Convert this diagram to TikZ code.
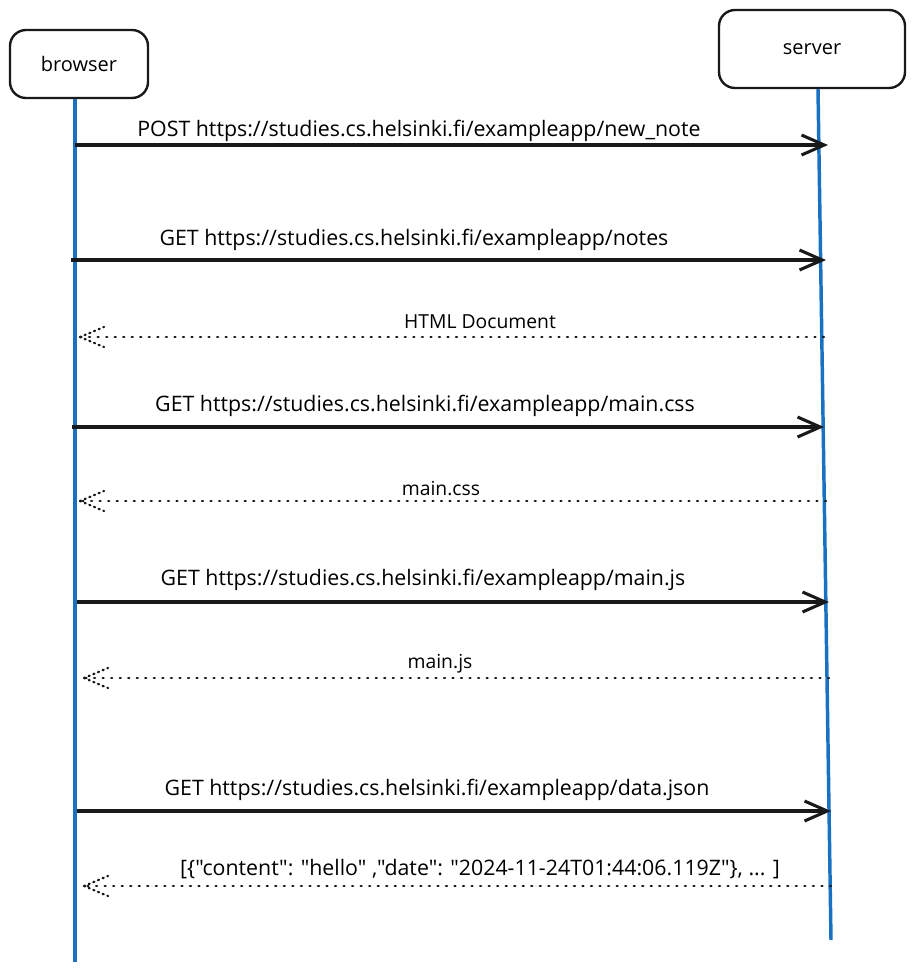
\documentclass[tikz,border=0pt]{standalone}
\usepackage{fontspec}
\newfontfamily\diagfont{Open Sans}
\usetikzlibrary{arrows.meta}
\definecolor{lifeblue}{HTML}{1971C2}

\begin{document}
\begin{tikzpicture}[%
        x = 0.75pt,
        y = -0.75pt,
        line width = 1.5pt,
        actor/.style = {draw = black!90, line width = 1.8pt, rounded corners = 12pt, font = \diagfont\fontsize{15}{17}\selectfont},
        life/.style = {draw = lifeblue, line width = 2.6pt},
        call/.style = {draw = black!90, line width = 2.3pt, -{Straight Barb[length = 17pt, width = 15pt]}},
        reply/.style = {draw = black!90, line width = 1.7pt, dash pattern = on 0.8pt off 5.6pt, line cap = round},
        msg/.style = {font = \diagfont\fontsize{16}{18}\selectfont},
        ans/.style = {font = \diagfont\fontsize{14.5}{17}\selectfont},
        ]

\useasboundingbox (0,0) rectangle (913,972);

% participants
\node (browser) [actor, minimum width = 103.5pt, minimum height = 51pt] at (79,64) {browser};
\node (server) [actor, minimum width = 139.5pt, minimum height = 58.5pt] at (812,49) {server};

\coordinate (bEnd) at (75,962);
\coordinate (sEnd) at (831,940);

\draw[life] (browser.south -| bEnd) -- (bEnd);
\draw[life] ([xshift = 4.5pt]server.south) -- (sEnd);

% end points of the messages
\foreach \NAME/\Y/\BX/\SX in {m1/145/75/828, m2/260/71/826, m3/337/80/824,
        m4/427/72/824, m5/501/80/826, m6/602/77/829, m7/678/84/829,
        m8/811/77/831, m9/886/84/831}{%
    \coordinate (\NAME b) at (\BX,\Y);
    \coordinate (\NAME s) at (\SX,\Y);
    }

\foreach \M in {m1,m2,m4,m6,m8}{%
    \draw[call] (\M b) -- (\M s);
    }

\foreach \M in {m3,m5,m7,m9}{%
    \draw[reply] (\M s) -- (\M b);
    \draw[reply, dash pattern = on 0.8pt off 3pt] (\M b) -- +(24,-10) (\M b) -- +(24,10);
    }

% labels
\node (t1) [msg] at (419,131) {POST https://studies.cs.helsinki.fi/exampleapp/new\_note};
\node (t2) [msg] at (414,240) {GET https://studies.cs.helsinki.fi/exampleapp/notes};
\node (t3) [ans] at (480,322) {HTML Document};
\node (t4) [msg] at (425,406) {GET https://studies.cs.helsinki.fi/exampleapp/main.css};
\node (t5) [ans] at (441,489) {main.css};
\node (t6) [msg] at (423,580) {GET https://studies.cs.helsinki.fi/exampleapp/main.js};
\node (t7) [ans] at (440,664) {main.js};
\node (t8) [msg] at (437,790) {GET https://studies.cs.helsinki.fi/exampleapp/data.json};
\node (t9) [msg] at (480,869) {[\{"content": "hello" ,"date": "2024-11-24T01:44:06.119Z"\}, ... ]};

\end{tikzpicture}
\end{document}
